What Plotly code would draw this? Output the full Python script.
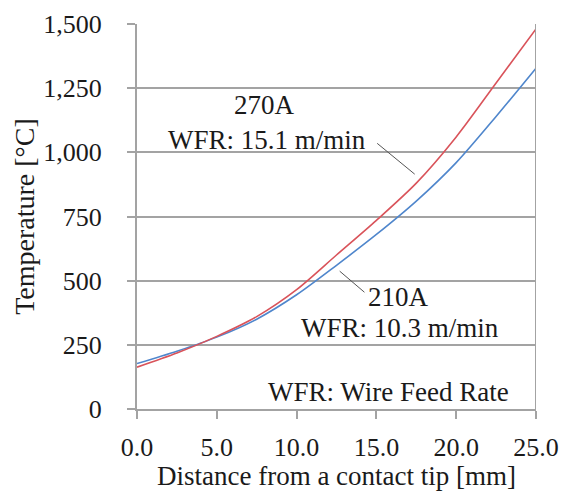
import plotly.graph_objects as go

distance = [0, 2.5, 5, 7.5, 10, 12.5, 15, 17.5, 20, 22.5, 25]
temp_270A = [163, 218, 283, 360, 465, 600, 735, 880, 1060, 1270, 1481]
temp_210A = [177, 225, 280, 350, 445, 560, 680, 810, 960, 1140, 1328]
x_ticks = [0, 5, 10, 15, 20, 25]
x_tick_labels = ["0.0", "5.0", "10.0", "15.0", "20.0", "25.0"]
y_ticks = [0, 250, 500, 750, 1000, 1250, 1500]
y_tick_labels = ["0", "250", "500", "750", "1,000", "1,250", "1,500"]

FONT = "Liberation Serif, Times New Roman, serif"
GRID = "#a3a3a3"
TXT = "#1a1a1a"

fig = go.Figure()
fig.add_trace(go.Scatter(x=distance, y=temp_210A, mode="lines",
                         line=dict(color="#4f86cc", width=1.6, shape="spline", smoothing=0.8),
                         name="210A", showlegend=False))
fig.add_trace(go.Scatter(x=distance, y=temp_270A, mode="lines",
                         line=dict(color="#d9535a", width=1.6, shape="spline", smoothing=0.8),
                         name="270A", showlegend=False))

fig.update_layout(
    width=563, height=491,
    margin=dict(l=137, r=27, t=24, b=82),
    paper_bgcolor="white", plot_bgcolor="white",
    font=dict(family=FONT, size=23, color=TXT),
    xaxis=dict(range=[0, 25], tickvals=x_ticks, ticktext=x_tick_labels,
               automargin=False,
               showgrid=False, zeroline=False, showline=True, linecolor=GRID, linewidth=2,
               ticks="outside", ticklen=8, tickcolor=GRID, tickwidth=2,
               ticklabelstandoff=6,
               title=dict(text="Distance from a contact tip [mm]", standoff=4,
                          font=dict(size=27)),
               tickfont=dict(size=26)),
    yaxis=dict(range=[0, 1500], tickvals=y_ticks, ticktext=y_tick_labels,
               automargin=False,
               showgrid=True, gridcolor=GRID, gridwidth=2, zeroline=False,
               showline=True, linecolor=GRID, linewidth=2,
               ticks="outside", ticklen=8, tickcolor=GRID, tickwidth=2,
               ticklabelstandoff=20,
               title=dict(text="Temperature [°C]", standoff=0, font=dict(size=28)),
               tickfont=dict(size=26)),
)

# right border
fig.add_shape(type="line", xref="x", yref="paper", x0=25, x1=25, y0=0, y1=1,
              line=dict(color=GRID, width=2))

ann_font = dict(family=FONT, size=27, color=TXT)
fig.add_annotation(x=8.0, y=1184, xref="x", yref="y", text="270A", showarrow=False, font=ann_font)
fig.add_annotation(x=8.12, y=1048, xref="x", yref="y", text="WFR: 15.1 m/min", showarrow=False, font=ann_font)
fig.add_annotation(x=16.4, y=436, xref="x", yref="y", text="210A", showarrow=False, font=ann_font)
fig.add_annotation(x=16.45, y=316, xref="x", yref="y", text="WFR: 10.3 m/min", showarrow=False, font=ann_font)
fig.add_annotation(x=23.44, y=66, xref="x", yref="y", text="WFR: Wire Feed Rate", showarrow=False,
                   xanchor="right", font=ann_font)

# leader lines
fig.add_shape(type="line", xref="x", yref="y", x0=15.05, y0=1035, x1=17.4, y1=915,
              line=dict(color="#555555", width=1))
fig.add_shape(type="line", xref="x", yref="y", x0=12.7, y0=537, x1=14.25, y1=455,
              line=dict(color="#555555", width=1))

fig.write_html("out.html")
